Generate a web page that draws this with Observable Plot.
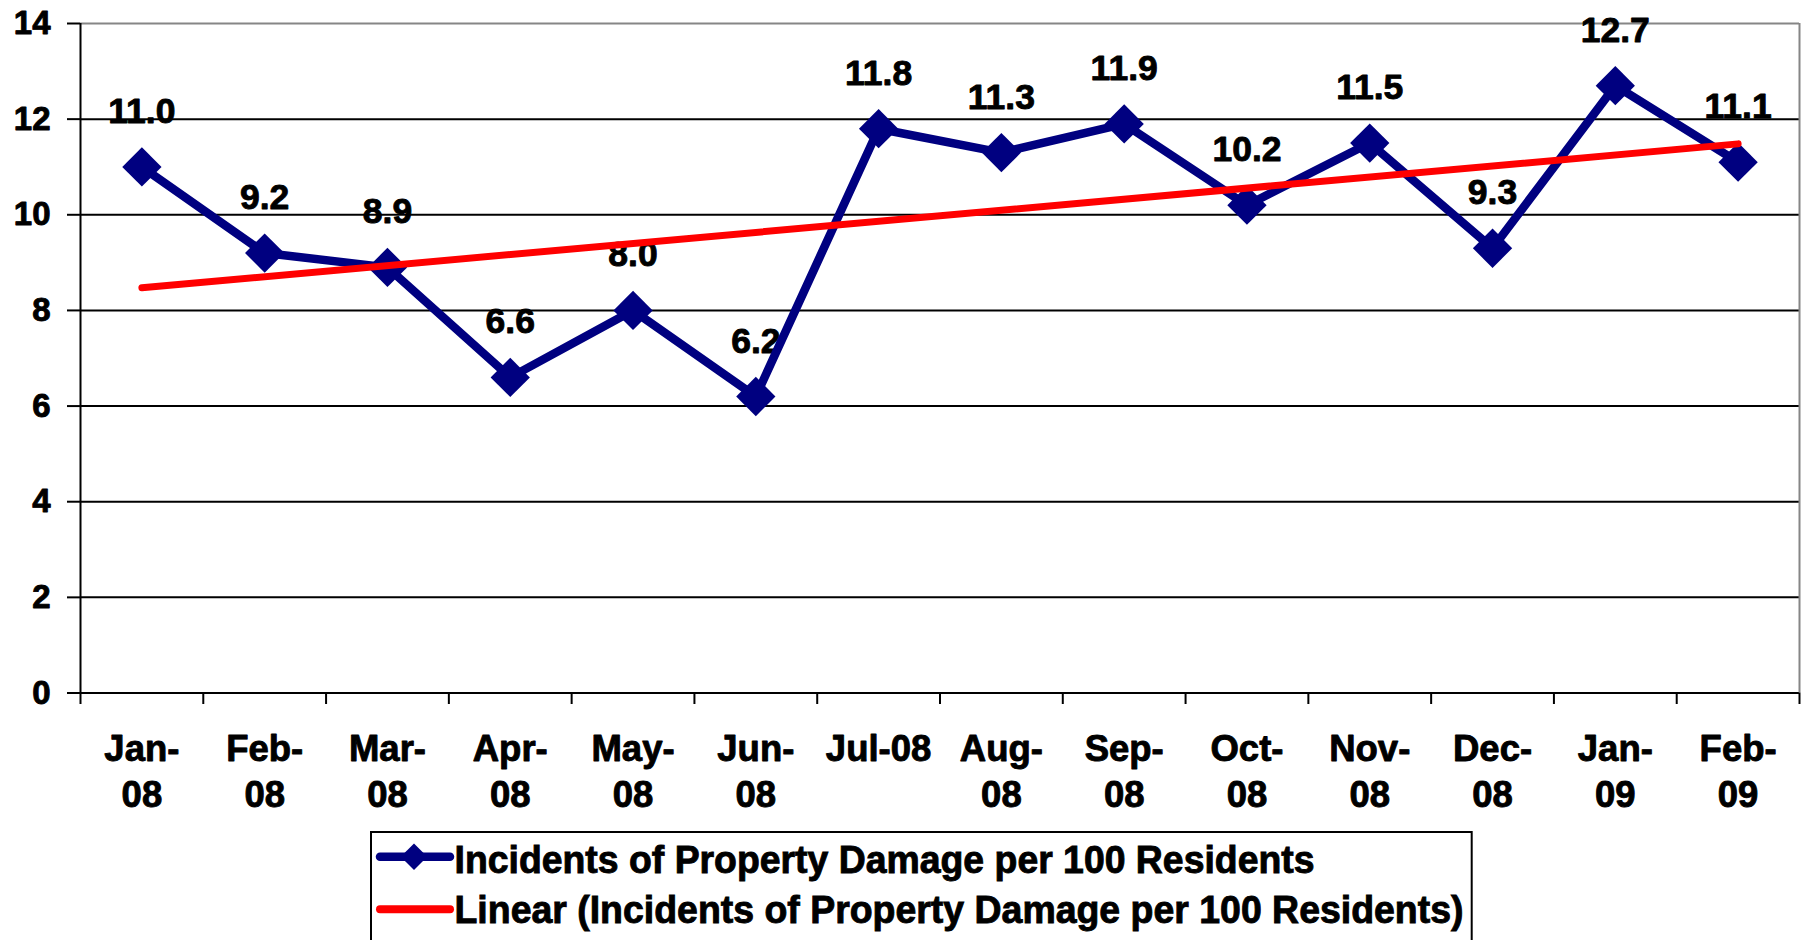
<!DOCTYPE html>
<html><head><meta charset="utf-8">
<script src="https://cdn.jsdelivr.net/npm/d3@7"></script>
<script src="https://cdn.jsdelivr.net/npm/@observablehq/plot@0.6"></script>
<style>
html,body{margin:0;padding:0;background:#fff;overflow:hidden;width:1807px;height:940px;}
#chart{position:absolute;left:0;top:0;}
#legend{position:absolute;left:0;top:825px;}
svg text{font-family:"Liberation Sans",Arial,Helvetica,sans-serif;font-weight:bold;}
</style></head><body>
<div id="chart"></div><div id="legend"></div>
<script>
// ---- data ----
const months = ["Jan-\n08","Feb-\n08","Mar-\n08","Apr-\n08","May-\n08","Jun-\n08","Jul-08","Aug-\n08","Sep-\n08","Oct-\n08","Nov-\n08","Dec-\n08","Jan-\n09","Feb-\n09"];
const damagePer100 = [11.0, 9.2, 8.9, 6.6, 8.0, 6.2, 11.8, 11.3, 11.9, 10.2, 11.5, 9.3, 12.7, 11.1];
const yTicks = [0, 2, 4, 6, 8, 10, 12, 14];
const seriesName = "Incidents of Property Damage per 100 Residents";
const trendName = "Linear (Incidents of Property Damage per 100 Residents)";

// ---- build ----
const data = damagePer100.map((v, i) => ({i, v, month: months[i]}));
const xMin = -0.5, xMax = months.length - 0.5;
const boundaries = d3.range(months.length + 1).map(k => k - 0.5);
const yMax = d3.max(yTicks);
const NAVY = "#000080", RED = "#ff0000", GRAY = "#868686";
const FONT = "Liberation Sans, Arial, Helvetica, sans-serif";
const heavy = {fontWeight: "bold", fontFamily: FONT, fill: "black", stroke: "black", strokeWidth: 0.9};

const chart = Plot.plot({
  width: 1807,
  height: 825,
  marginLeft: 80,
  marginRight: 8,
  marginTop: 23,
  marginBottom: 132.5,
  style: {background: "white", color: "black", fontFamily: FONT},
  x: {type: "linear", domain: [xMin, xMax], axis: null},
  y: {domain: [0, yMax], label: null, axis: null},
  marks: [
    Plot.ruleY(yTicks.filter(t => t < yMax), {y: d => d, stroke: "black", strokeWidth: 2}),
    Plot.ruleY([yMax], {y: d => d, stroke: GRAY, strokeWidth: 2}),
    Plot.ruleX([xMax], {x: d => d, stroke: GRAY, strokeWidth: 2}),
    Plot.ruleX([xMin], {x: d => d, stroke: "black", strokeWidth: 2}),
    Plot.ruleX(boundaries, {x: d => d, y1: 0, y2: 0, insetBottom: -11.5, stroke: "black", strokeWidth: 2}),
    Plot.axisY({ticks: yTicks, tickSize: 13, tickPadding: 17, fontSize: 33, fontWeight: "bold", fontFamily: FONT, strokeWidth: 2, label: null, text: null}),
    Plot.text(yTicks, {y: d => d, text: d => String(d), frameAnchor: "left", textAnchor: "end", dx: -30, fontSize: 33, ...heavy}),
    Plot.text(months, {x: (d, i) => i, text: d => d, frameAnchor: "bottom", lineAnchor: "top", lineHeight: 1.26, dy: 35.3, fontSize: 36.5, ...heavy}),
    Plot.text(data, {x: "i", y: "v", text: d => d.v.toFixed(1), lineAnchor: "bottom", dy: -44, fontSize: 35.5, ...heavy}),
    Plot.line(data, {x: "i", y: "v", stroke: NAVY, strokeWidth: 8.5}),
    Plot.dot(data, {x: "i", y: "v", symbol: "diamond2", r: 17.7, fill: NAVY, stroke: "none"}),
    Plot.linearRegressionY(data, {x: "i", y: "v", stroke: RED, strokeWidth: 7, ci: 0, strokeLinecap: "round"})
  ]
});
document.getElementById("chart").appendChild(chart);

// ---- legend ----
const lg = d3.select("#legend").append("svg").attr("width", 1807).attr("height", 115);
lg.append("rect").attr("x", 371).attr("y", 7).attr("width", 1100.7).attr("height", 130)
  .attr("fill", "white").attr("stroke", "black").attr("stroke-width", 2);
const rows = [
  {name: seriesName, color: NAVY, sw: 8.5, marker: true, ly: 31.7, ty: 48.3, len: 860},
  {name: trendName, color: RED, sw: 8, marker: false, ly: 84.3, ty: 98.3, len: 1009}
];
rows.forEach(r => {
  lg.append("line").attr("x1", 380).attr("x2", 450).attr("y1", r.ly).attr("y2", r.ly)
    .attr("stroke", r.color).attr("stroke-width", r.sw).attr("stroke-linecap", "round");
  if (r.marker) {
    lg.append("path").attr("transform", `translate(414,${r.ly})`)
      .attr("d", "M0,-13.3L13.3,0L0,13.3L-13.3,0Z").attr("fill", r.color);
  }
  lg.append("text").attr("x", 454.5).attr("y", r.ty).attr("font-size", 38)
    .attr("textLength", r.len).attr("lengthAdjust", "spacingAndGlyphs")
    .attr("fill", "black").attr("stroke", "black").attr("stroke-width", 0.9)
    .attr("paint-order", "stroke").text(r.name);
});
</script>
</body></html>
